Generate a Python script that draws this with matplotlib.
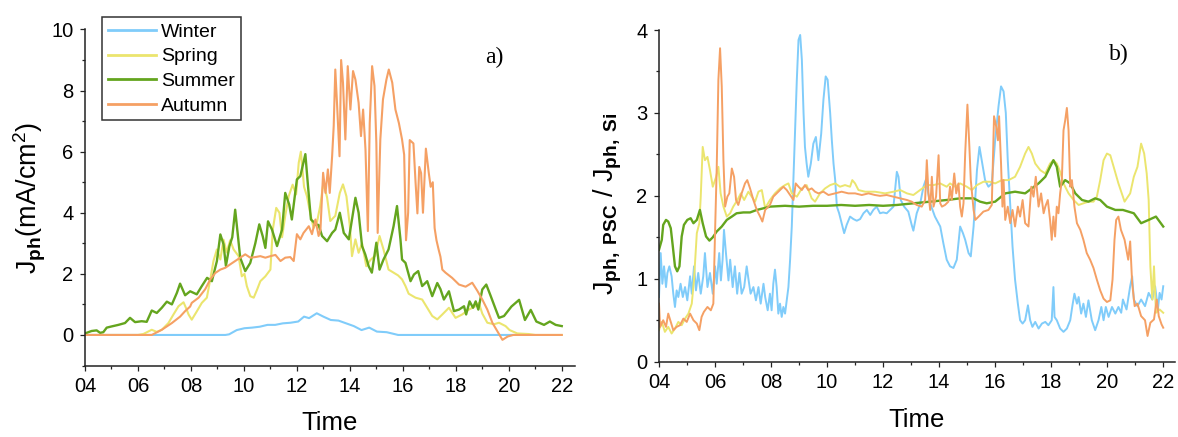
import matplotlib
matplotlib.use("Agg")
import matplotlib.pyplot as plt
from matplotlib.ticker import FixedLocator, MultipleLocator

plt.rcParams['font.family'] = ['Liberation Sans', 'DejaVu Sans']
plt.rcParams['mathtext.fontset'] = 'custom'
plt.rcParams['mathtext.rm'] = 'Liberation Sans'
plt.rcParams['mathtext.bf'] = 'Liberation Sans:bold'
plt.rcParams['mathtext.it'] = 'Liberation Sans:italic'

# ---------------- data ----------------
seasons = ['Winter', 'Spring', 'Summer', 'Autumn']
xtick_values = [4, 6, 8, 10, 12, 14, 16, 18, 20, 22]
xtick_labels = ['04', '06', '08', '10', '12', '14', '16', '18', '20', '22']

# panel a) J_ph (mA/cm2)
a_winter_t = [4.0, 9.3, 9.44, 9.73, 10.02, 10.31, 10.6, 10.89, 11.18, 11.47, 11.76, 12.05, 12.27, 12.46,
              12.75, 13.0, 13.28, 13.57, 13.86, 14.15, 14.44, 14.73, 15.02, 15.39, 15.68, 15.82, 20.3]
a_winter_v = [0, 0, 0.02, 0.16, 0.22, 0.24, 0.27, 0.33, 0.33, 0.38, 0.4, 0.44, 0.6, 0.55,
              0.71, 0.6, 0.49, 0.47, 0.38, 0.29, 0.16, 0.24, 0.11, 0.09, 0.03, 0, 0]

a_spring_t = [4.0, 6.0, 6.2, 6.52, 6.71, 6.9, 7.15, 7.34, 7.53, 7.72, 7.84, 7.91, 8.03, 8.22, 8.41, 8.6,
              8.73, 8.85, 8.98, 9.11, 9.23, 9.35, 9.48, 9.61, 9.8, 9.92, 10.02, 10.11, 10.24, 10.37,
              10.5, 10.62, 10.81, 11.0, 11.09, 11.22, 11.34, 11.44, 11.56, 11.69, 11.84, 11.97, 12.07,
              12.15, 12.27, 12.38, 12.5, 12.63, 12.76, 12.88, 13.0, 13.14, 13.26, 13.45, 13.62, 13.74,
              13.87, 14.0, 14.08, 14.21, 14.33, 14.46, 14.62, 14.77, 14.96, 15.12, 15.27, 15.46, 15.65,
              15.82, 15.97, 16.1, 16.22, 16.48, 16.73, 16.92, 17.11, 17.3, 17.49, 17.74, 17.99, 18.24,
              18.49, 18.74, 18.87, 19.0, 19.19, 19.44, 19.63, 19.88, 20.03, 20.32, 20.75, 21.0, 22.0]
a_spring_v = [0, 0, 0.03, 0.17, 0.1, 0.17, 0.39, 0.67, 0.94, 1.07, 0.83, 0.67, 0.5, 0.77, 1.05, 1.22,
              1.82, 2.42, 2.8, 2.47, 3.12, 2.7, 3.1, 2.8, 2.58, 1.92, 2.0, 1.6, 1.27, 1.22,
              1.49, 1.76, 1.92, 2.14, 3.45, 4.16, 4.0, 3.2, 3.9, 4.54, 4.92, 4.6, 5.64,
              6.0, 4.85, 4.54, 4.0, 3.5, 3.7, 4.22, 4.98, 4.5, 3.73, 3.9, 4.65, 4.93,
              4.54, 3.56, 2.58, 3.13, 2.69, 3.0, 2.25, 2.45, 2.6, 3.24, 2.8, 2.14, 2.04,
              1.95, 1.82, 1.6, 1.35, 1.22, 1.16, 0.89, 0.62, 0.51, 0.67, 0.89, 0.56, 0.67,
              0.83, 0.94, 1.05, 0.7, 0.4, 0.35, 0.4, 0.29, 0.16, 0.05, 0.03, 0, 0]

a_summer_t = [4.0, 4.25, 4.44, 4.57, 4.69, 4.82, 5.01, 5.26, 5.51, 5.7, 5.89, 6.14, 6.33, 6.52, 6.71, 6.9,
              7.09, 7.28, 7.47, 7.59, 7.78, 7.97, 8.22, 8.41, 8.61, 8.79, 8.98, 9.11, 9.23, 9.32, 9.45,
              9.56, 9.67, 9.86, 10.05, 10.24, 10.43, 10.58, 10.71, 10.81, 10.91, 11.06, 11.25, 11.44,
              11.56, 11.71, 11.81, 12.0, 12.13, 12.32, 12.42, 12.53, 12.63, 12.7, 12.82, 12.95, 13.14,
              13.33, 13.45, 13.62, 13.77, 13.96, 14.08, 14.21, 14.33, 14.46, 14.58, 14.71, 14.83, 15.0,
              15.12, 15.27, 15.46, 15.65, 15.78, 15.91, 15.97, 16.1, 16.29, 16.42, 16.58, 16.73, 16.92,
              17.11, 17.3, 17.42, 17.55, 17.74, 17.93, 18.12, 18.31, 18.39, 18.52, 18.65, 18.75, 18.85,
              19.0, 19.15, 19.32, 19.51, 19.63, 19.82, 20.1, 20.39, 20.61, 20.83, 21.04, 21.33, 21.55,
              21.77, 22.0]
a_summer_v = [0.05, 0.13, 0.15, 0.07, 0.09, 0.24, 0.28, 0.33, 0.39, 0.56, 0.42, 0.45, 0.43, 0.8, 0.72, 0.89,
              1.09, 1.0, 1.38, 1.68, 1.3, 1.43, 1.33, 1.6, 1.87, 1.76, 2.42, 3.29, 2.97, 2.26, 2.9,
              3.2, 4.1, 2.53, 2.09, 2.36, 3.0, 3.62, 3.23, 2.85, 3.72, 3.45, 2.91, 3.45,
              4.65, 4.27, 3.78, 5.09, 5.2, 5.92, 4.87, 3.78, 3.7, 3.62, 3.6, 3.24, 3.07,
              3.34, 3.45, 4.0, 3.34, 3.13, 3.78, 4.49, 4.0, 2.91, 2.64, 2.25, 2.04, 3.02,
              2.14, 2.47, 2.8, 3.56, 4.22, 3.13, 2.47, 2.36, 1.76, 1.98, 2.09, 1.6, 1.76,
              1.27, 1.7, 1.5, 1.16, 1.43, 0.78, 0.83, 0.94, 0.67, 1.1, 0.89, 1.1, 0.83,
              1.49, 1.65, 1.27, 0.83, 0.56, 0.62, 0.93, 1.15, 0.49, 0.82, 0.44, 0.33, 0.44,
              0.33, 0.29]

a_autumn_t = [4.0, 6.52, 6.9, 7.28, 7.59, 7.78, 7.97, 8.03, 8.29, 8.54, 8.73, 8.92, 9.11, 9.3, 9.48, 9.67,
              9.86, 10.05, 10.24, 10.43, 10.62, 10.81, 11.0, 11.19, 11.38, 11.56, 11.75, 11.88, 12.0,
              12.13, 12.25, 12.45, 12.57, 12.7, 12.82, 12.89, 12.99, 13.08, 13.17, 13.24, 13.33, 13.39,
              13.45, 13.52, 13.61, 13.67, 13.74, 13.83, 13.92, 14.02, 14.12, 14.21, 14.33, 14.42, 14.5,
              14.59, 14.68, 14.75, 14.84, 14.93, 15.0, 15.05, 15.15, 15.25, 15.38, 15.47, 15.6, 15.72,
              15.85, 15.97, 16.05, 16.12, 16.2, 16.26, 16.4, 16.48, 16.55, 16.62, 16.69, 16.76, 16.87,
              16.98, 17.05, 17.13, 17.2, 17.27, 17.35, 17.42, 17.49, 17.61, 17.86, 18.12, 18.37, 18.62,
              18.81, 19.0, 19.19, 19.38, 19.57, 19.76, 19.96, 20.17, 22.0]
a_autumn_v = [0, 0, 0.17, 0.39, 0.6, 0.78, 0.93, 1.05, 1.22, 1.5, 1.82, 2.03, 2.14, 2.2, 2.31, 2.42,
              2.53, 2.64, 2.53, 2.55, 2.58, 2.53, 2.58, 2.62, 2.42, 2.53, 2.55, 2.42, 3.3,
              3.13, 3.34, 3.56, 3.3, 3.78, 3.24, 3.45, 5.31, 4.65, 5.42, 4.65, 5.85, 6.84,
              8.69, 7.49, 5.85, 9.0, 8.26, 6.4, 8.8, 7.38, 8.64, 8.36, 7.6, 6.51, 7.38,
              6.07, 3.4, 6.94, 8.8, 8.15, 6.29, 3.34, 6.4, 7.71, 8.36, 8.69, 8.26, 7.38,
              6.94, 6.4, 5.9, 3.1, 4.0, 6.38, 6.27, 5.0, 3.98, 5.5, 5.3, 4.0, 6.1,
              5.3, 4.85, 5.0, 3.5, 3.1, 2.8, 2.56, 2.14, 2.04, 1.87, 1.65, 1.58, 1.71,
              1.45, 1.16, 0.83, 0.4, 0.12, -0.16, -0.05, 0, 0]

# panel b) J_ph,PSC / J_ph,Si
b_winter_t = [4.0, 4.06, 4.12, 4.18, 4.25, 4.3, 4.37, 4.45, 4.51, 4.57, 4.63, 4.69, 4.77, 4.85, 4.93, 5.01,
              5.11, 5.17, 5.25, 5.32, 5.4, 5.49, 5.58, 5.64, 5.73, 5.82, 5.92, 6.0, 6.06, 6.15, 6.21,
              6.27, 6.32, 6.39, 6.48, 6.54, 6.63, 6.71, 6.79, 6.87, 6.95, 7.04, 7.13, 7.2, 7.27, 7.37,
              7.46, 7.55, 7.63, 7.73, 7.79, 7.88, 7.96, 8.02, 8.08, 8.14, 8.2, 8.26, 8.32, 8.38, 8.44,
              8.5, 8.56, 8.62, 8.68, 8.74, 8.8, 8.86, 8.92, 8.98, 9.04, 9.1, 9.16, 9.21, 9.27, 9.33,
              9.42, 9.51, 9.6, 9.69, 9.79, 9.87, 9.95, 10.02, 10.11, 10.17, 10.23, 10.29, 10.35, 10.43,
              10.52, 10.61, 10.7, 10.82, 10.94, 11.06, 11.18, 11.3, 11.42, 11.54, 11.65, 11.77, 11.89,
              12.0, 12.13, 12.37, 12.49, 12.55, 12.63, 12.75, 12.9, 13.02, 13.08, 13.2, 13.32, 13.44,
              13.52, 13.68, 13.85, 14.04, 14.15, 14.27, 14.39, 14.51, 14.63, 14.75, 14.85, 14.93, 15.05,
              15.13, 15.23, 15.35, 15.44, 15.52, 15.64, 15.76, 15.88, 16.0, 16.12, 16.21, 16.3, 16.38,
              16.45, 16.54, 16.62, 16.71, 16.81, 16.89, 16.98, 17.07, 17.17, 17.25, 17.33, 17.43, 17.55,
              17.67, 17.79, 17.9, 18.02, 18.08, 18.12, 18.2, 18.32, 18.44, 18.56, 18.68, 18.76, 18.83,
              18.92, 18.98, 19.07, 19.15, 19.24, 19.33, 19.45, 19.57, 19.69, 19.79, 19.87, 19.95, 20.05,
              20.17, 20.29, 20.4, 20.5, 20.56, 20.69, 20.82, 20.89, 20.95, 21.08, 21.21, 21.35, 21.48,
              21.61, 21.71, 21.81, 21.87, 21.94, 22.0]
b_winter_v = [0.78, 1.31, 0.94, 1.15, 0.9, 1.07, 1.15, 1.03, 0.82, 0.66, 0.86, 0.78, 0.94, 0.78, 0.9, 0.74,
              1.03, 0.82, 1.15, 0.86, 1.07, 0.82, 1.03, 1.31, 0.9, 1.07, 0.82, 1.15, 0.94, 1.31, 0.98,
              1.23, 1.59, 1.31, 0.98, 1.23, 0.9, 1.15, 0.82, 1.07, 0.82, 0.9, 1.15, 0.98, 0.82, 0.9,
              0.74, 0.9, 0.7, 0.94, 0.78, 0.62, 0.82, 0.62, 0.94, 1.11, 0.9, 0.58, 0.7, 0.54, 0.66,
              0.58, 0.74, 0.9, 1.23, 1.63, 2.23, 2.83, 3.4, 3.88, 3.94, 3.64, 3.0, 2.59, 2.39, 2.23,
              2.39, 2.63, 2.71, 2.43, 2.75, 3.16, 3.44, 3.4, 3.0, 2.67, 2.39, 2.19, 1.87, 1.79,
              1.67, 1.55, 1.65, 1.75, 1.72, 1.7, 1.72, 1.79, 1.83, 1.77, 1.83, 1.87, 1.79,
              1.8, 1.79, 1.87, 2.29, 2.23, 1.95, 1.87, 1.81, 1.65, 1.58, 1.79, 1.9, 2.11,
              2.19, 1.91, 1.75, 1.63, 1.43, 1.23, 1.15, 1.13, 1.23, 1.63, 1.55, 1.47, 1.31,
              1.27, 1.63, 2.31, 2.59, 2.43, 2.19, 2.11, 2.15, 2.67, 3.08, 3.32, 3.26, 3.0,
              2.43, 1.87, 1.39, 0.99, 0.7, 0.5, 0.46, 0.5, 0.68, 0.5, 0.42, 0.48, 0.4,
              0.46, 0.48, 0.44, 0.5, 0.9, 0.54, 0.5, 0.4, 0.36, 0.4, 0.5, 0.68, 0.82,
              0.7, 0.78, 0.58, 0.7, 0.54, 0.74, 0.5, 0.38, 0.5, 0.66, 0.5, 0.66, 0.54,
              0.66, 0.58, 0.66, 0.59, 0.75, 0.63, 0.91, 1.03, 0.75, 0.67, 0.75, 0.67, 0.83,
              0.75, 0.91, 0.63, 0.83, 0.75, 0.91]

b_spring_t = [4.0, 4.1, 4.21, 4.33, 4.45, 4.57, 4.69, 4.81, 4.93, 5.05, 5.17, 5.25, 5.35, 5.44, 5.49, 5.56,
              5.64, 5.73, 5.82, 5.92, 6.04, 6.12, 6.2, 6.3, 6.42, 6.54, 6.65, 6.8, 6.92, 7.04, 7.19,
              7.31, 7.43, 7.55, 7.67, 7.79, 7.96, 8.14, 8.32, 8.5, 8.62, 8.74, 8.92, 9.1, 9.27, 9.45,
              9.57, 9.75, 9.93, 10.11, 10.29, 10.46, 10.64, 10.82, 10.9, 11.0, 11.12, 11.36, 11.71,
              12.07, 12.37, 12.61, 12.85, 13.08, 13.32, 13.56, 13.8, 14.04, 14.27, 14.39, 14.57, 14.75,
              14.99, 15.17, 15.35, 15.58, 15.82, 16.0, 16.24, 16.48, 16.71, 16.89, 17.07, 17.19, 17.31,
              17.43, 17.61, 17.79, 17.96, 18.08, 18.2, 18.32, 18.44, 18.62, 18.8, 18.98, 19.15, 19.33,
              19.51, 19.63, 19.75, 19.87, 19.99, 20.11, 20.23, 20.4, 20.62, 20.82, 20.95, 21.08, 21.21,
              21.32, 21.41, 21.48, 21.54, 21.61, 21.67, 21.74, 21.87, 22.0]
b_spring_v = [0.38, 0.48, 0.36, 0.42, 0.34, 0.4, 0.48, 0.44, 0.52, 0.58, 0.7, 0.99, 1.55, 1.67, 1.99, 2.59,
              2.43, 2.47, 2.31, 2.11, 2.23, 2.35, 2.03, 1.87, 1.75, 1.79, 1.87, 1.95, 2.03, 1.95, 2.05,
              1.99, 1.93, 2.05, 2.07, 1.85, 1.95, 2.03, 2.09, 2.13, 2.15, 2.03, 1.99, 2.09, 2.13, 1.97,
              1.93, 2.03, 2.09, 2.13, 2.15, 2.11, 2.13, 2.11, 2.19, 2.15, 2.07, 2.05, 2.05,
              2.03, 2.05, 2.07, 2.03, 2.01, 2.07, 2.13, 2.13, 2.15, 2.11, 2.15, 2.11, 2.15,
              2.11, 2.07, 2.13, 2.17, 2.17, 2.15, 2.19, 2.19, 2.23, 2.35, 2.51, 2.59, 2.51,
              2.39, 2.31, 2.27, 2.39, 2.43, 2.39, 2.29, 2.15, 2.03, 1.95, 1.89, 1.91, 1.93,
              1.93, 1.99, 2.19, 2.43, 2.51, 2.49, 2.35, 2.15, 1.93, 2.03, 2.23, 2.35, 2.63,
              2.51, 2.27, 1.95, 1.15, 0.75, 1.15, 0.59, 0.63, 0.59]

b_summer_t = [4.0, 4.1, 4.15, 4.25, 4.33, 4.42, 4.49, 4.57, 4.65, 4.73, 4.81, 4.89, 5.01, 5.13, 5.23, 5.35,
              5.46, 5.56, 5.68, 5.8, 5.92, 6.06, 6.24, 6.42, 6.6, 6.77, 7.01, 7.25, 7.49, 7.73, 7.96,
              8.5, 9.0, 9.5, 10.0, 10.5, 11.0, 11.5, 12.0, 12.49, 13.08, 13.68, 14.27, 14.75, 15.23,
              15.46, 15.7, 16.0, 16.36, 16.71, 17.07, 17.31, 17.55, 17.79, 17.96, 18.08, 18.2, 18.32,
              18.5, 18.68, 18.86, 19.1, 19.33, 19.57, 19.75, 19.99, 20.29, 20.56, 20.95, 21.21, 21.48,
              21.74, 22.0]
b_summer_v = [1.35, 1.47, 1.65, 1.71, 1.69, 1.61, 1.4, 1.15, 1.09, 1.15, 1.51, 1.65, 1.71, 1.73, 1.67, 1.71,
              1.83, 1.67, 1.51, 1.46, 1.5, 1.57, 1.63, 1.71, 1.75, 1.79, 1.8, 1.8, 1.83, 1.85, 1.87,
              1.88, 1.87, 1.88, 1.88, 1.89, 1.88, 1.89, 1.88, 1.89, 1.91, 1.93, 1.95, 1.97, 1.97,
              1.93, 1.91, 1.93, 2.03, 2.05, 2.03, 2.09, 2.15, 2.23, 2.35, 2.43, 2.35, 2.11,
              2.19, 2.15, 2.03, 1.95, 1.93, 1.97, 1.95, 1.87, 1.83, 1.83, 1.79, 1.67, 1.71,
              1.75, 1.63]

b_autumn_t = [4.0, 4.04, 4.15, 4.25, 4.33, 4.42, 4.51, 4.63, 4.75, 4.87, 4.99, 5.11, 5.23, 5.35, 5.44, 5.52,
              5.6, 5.73, 5.85, 5.94, 6.0, 6.06, 6.12, 6.18, 6.24, 6.3, 6.36, 6.44, 6.51, 6.6, 6.68,
              6.75, 6.83, 6.95, 7.07, 7.15, 7.25, 7.37, 7.49, 7.61, 7.69, 7.79, 7.9, 7.96, 8.08, 8.26,
              8.44, 8.56, 8.68, 8.8, 8.88, 8.98, 9.1, 9.21, 9.33, 9.45, 9.57, 9.69, 9.87, 10.05, 10.29,
              10.52, 10.76, 11.0, 11.24, 11.48, 11.71, 11.89, 12.13, 12.37, 12.61, 12.85, 13.02, 13.2,
              13.38, 13.5, 13.56, 13.62, 13.68, 13.74, 13.8, 13.89, 13.98, 14.04, 14.1, 14.21, 14.33,
              14.39, 14.45, 14.54, 14.61, 14.69, 14.75, 14.81, 14.87, 14.93, 15.01, 15.08, 15.13, 15.23,
              15.29, 15.41, 15.58, 15.76, 15.88, 15.96, 16.04, 16.1, 16.14, 16.21, 16.26, 16.3, 16.36,
              16.45, 16.54, 16.62, 16.71, 16.81, 16.89, 16.98, 17.07, 17.19, 17.29, 17.37, 17.45, 17.55,
              17.64, 17.73, 17.79, 17.88, 17.96, 18.02, 18.08, 18.14, 18.2, 18.26, 18.32, 18.38, 18.44,
              18.5, 18.56, 18.62, 18.68, 18.74, 18.83, 18.92, 19.04, 19.15, 19.27, 19.39, 19.51, 19.63,
              19.75, 19.87, 19.99, 20.11, 20.19, 20.26, 20.32, 20.4, 20.49, 20.62, 20.75, 20.82, 20.89,
              20.98, 21.08, 21.21, 21.35, 21.44, 21.54, 21.67, 21.77, 21.84, 21.94, 22.0]
b_autumn_v = [0.7, 0.42, 0.5, 0.42, 0.58, 0.48, 0.38, 0.42, 0.44, 0.52, 0.48, 0.58, 0.5, 0.46, 0.38, 0.54,
              0.6, 0.66, 0.62, 0.7, 1.55, 2.33, 3.4, 3.78, 3.32, 2.43, 1.87, 1.99, 2.03, 2.33, 2.23,
              1.95, 1.89, 2.03, 2.15, 2.19, 2.09, 1.95, 1.83, 1.75, 1.69, 1.83, 1.87, 1.89, 1.99, 2.05,
              2.11, 2.07, 2.01, 1.95, 2.15, 2.11, 2.07, 2.13, 2.07, 2.09, 2.05, 2.03, 2.05, 2.01, 2.03,
              2.05, 2.03, 2.03, 2.01, 2.03, 2.01, 2.0, 2.01, 1.99, 1.97, 1.95, 1.93, 1.89,
              1.87, 1.95, 2.43, 2.03, 1.83, 2.23, 1.87, 1.99, 2.49, 1.91, 1.87, 1.89, 1.93,
              2.11, 1.95, 2.27, 2.03, 2.15, 1.87, 1.75, 1.91, 2.51, 3.1, 2.59, 2.19, 1.83,
              1.71, 1.75, 1.81, 1.83, 1.89, 2.96, 2.83, 2.67, 2.96, 2.39, 1.87, 2.19, 1.71,
              1.87, 1.67, 1.83, 1.63, 1.87, 1.75, 1.95, 1.67, 1.63, 2.11, 1.99, 2.23, 1.87,
              2.03, 1.79, 1.87, 1.95, 1.71, 1.47, 1.75, 1.51, 1.87, 1.79, 2.03, 2.19, 2.79,
              2.91, 3.06, 2.79, 2.11, 2.19, 1.87, 1.67, 1.59, 1.47, 1.31, 1.23, 1.13, 0.99,
              0.86, 0.76, 0.72, 0.74, 0.99, 1.47, 1.71, 1.75, 1.59, 1.47, 1.23, 1.45, 0.95,
              0.67, 0.7, 0.55, 0.5, 0.31, 0.47, 0.51, 0.75, 0.55, 0.45, 0.41]

colors = {'Winter': '#80CCFA', 'Spring': '#EBE56E', 'Summer': '#64A51E', 'Autumn': '#F5A064'}

# ---------------- figure ----------------
fig = plt.figure(figsize=(11.78, 4.37), dpi=100)
ax_a = fig.add_axes([85 / 1178, (437 - 365.5) / 437, 490 / 1178, 336 / 437])
ax_b = fig.add_axes([659 / 1178, (437 - 361.7) / 437, 516 / 1178, 331.7 / 437])

a_series = [(a_winter_t, a_winter_v), (a_spring_t, a_spring_v), (a_summer_t, a_summer_v), (a_autumn_t, a_autumn_v)]
b_series = [(b_winter_t, b_winter_v), (b_spring_t, b_spring_v), (b_summer_t, b_summer_v), (b_autumn_t, b_autumn_v)]

for name, (t, v) in zip(seasons, a_series):
    ax_a.plot(t, v, color=colors[name], lw=1.7 if name == 'Summer' else 1.5, label=name)
for name, (t, v) in zip(seasons, b_series):
    ax_b.plot(t, v, color=colors[name], lw=1.7 if name == 'Summer' else 1.4, label=name)

spine_col = '#222222'
for ax in (ax_a, ax_b):
    for s in ('top', 'right'):
        ax.spines[s].set_visible(False)
    for s in ('left', 'bottom'):
        ax.spines[s].set_linewidth(1.1)
        ax.spines[s].set_color(spine_col)
    ax.xaxis.set_major_locator(FixedLocator(xtick_values))
    ax.set_xticklabels(xtick_labels)
    ax.xaxis.set_minor_locator(MultipleLocator(1))
    ax.tick_params(which='major', direction='out', length=3.8, width=0.9, color=spine_col,
                   labelsize=14.5, pad=4.5)
    ax.tick_params(which='minor', direction='out', length=2.3, width=0.9, color=spine_col)
    ax.set_xlabel('Time', fontsize=18.5, labelpad=11)

ax_a.set_xlim(4, 22.5)
ax_a.set_ylim(-1, 10)
ax_a.yaxis.set_major_locator(FixedLocator([0, 2, 4, 6, 8, 10]))
ax_a.yaxis.set_minor_locator(MultipleLocator(1))
ax_a.set_ylabel(r'J$_{\mathbf{ph}}$(mA/cm$^{2}$)', fontsize=19.5)
ax_a.yaxis.set_label_coords(-0.076, 0.5)

ax_b.set_xlim(4, 22.42)
ax_b.set_ylim(0, 4)
ax_b.yaxis.set_major_locator(FixedLocator([0, 1, 2, 3, 4]))
ax_b.yaxis.set_minor_locator(MultipleLocator(0.5))
ax_b.set_ylabel(r'J$_{\mathbf{ph,\ PSC}}$ / J$_{\mathbf{ph,\ Si}}$', fontsize=19.5)
ax_b.yaxis.set_label_coords(-0.068, 0.476)

ax_a.text(19.45, 9.1, 'a)', family='Liberation Serif', fontsize=17, ha='center', va='center')
ax_b.text(20.4, 3.7, 'b)', family='Liberation Serif', fontsize=17, ha='center', va='center')

leg = ax_a.legend(loc='upper left', bbox_to_anchor=(101.7 / 1178, 1 - 17.3 / 437),
                  bbox_transform=fig.transFigure, borderaxespad=0, fontsize=14,
                  handlelength=2.5, handletextpad=0.25, borderpad=0.3, labelspacing=0.36,
                  frameon=True, fancybox=False, framealpha=1)
leg.get_frame().set_edgecolor('#333333')
leg.get_frame().set_linewidth(1.1)
for line in leg.get_lines():
    line.set_linewidth(2.0)

fig.savefig('out.png', dpi=100)
